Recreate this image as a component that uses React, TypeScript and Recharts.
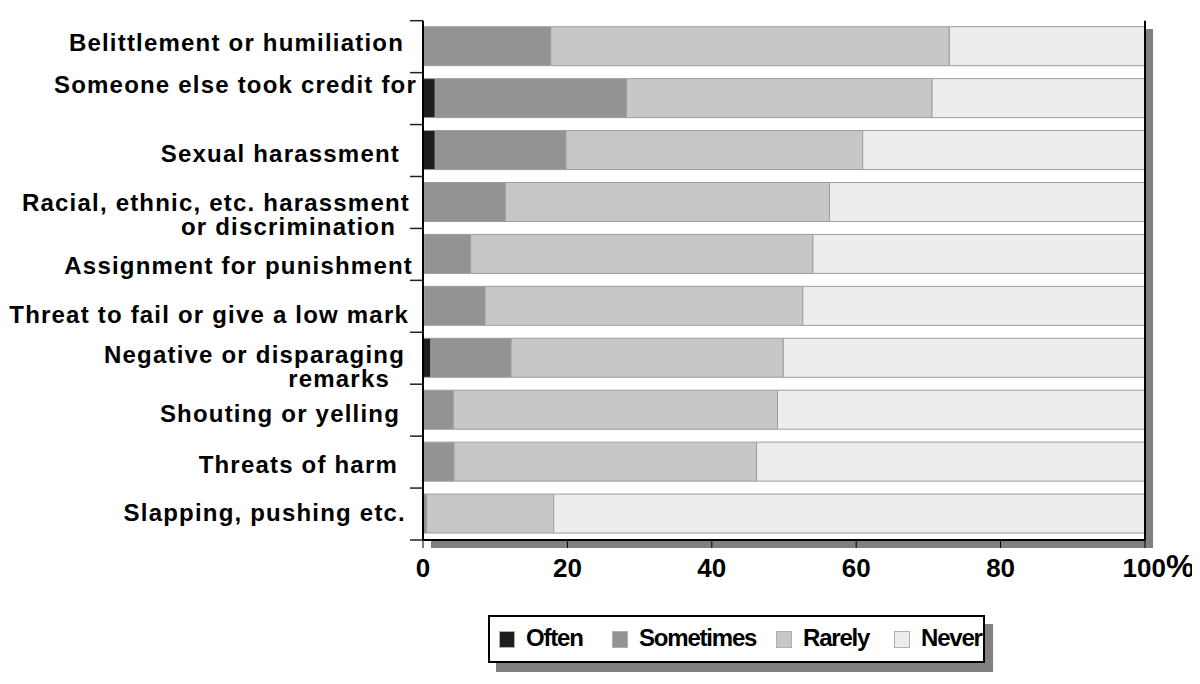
import React from 'react';
import { BarChart, Bar, XAxis, YAxis, CartesianGrid, Legend, ReferenceLine } from 'recharts';

const categories = [
  'Belittlement or humiliation',
  'Someone else took credit for',
  'Sexual harassment',
  'Racial, ethnic, etc. harassment\nor discrimination',
  'Assignment for punishment',
  'Threat to fail or give a low mark',
  'Negative or disparaging\nremarks',
  'Shouting or yelling',
  'Threats of harm',
  'Slapping, pushing etc.',
];
const often = [0, 1.7, 1.7, 0, 0.2, 0.2, 1.1, 0, 0, 0];
const sometimes = [17.7, 26.5, 18.1, 11.4, 6.4, 8.4, 11.1, 4.2, 4.3, 0.5];
const rarely = [55.2, 42.3, 41.1, 44.9, 47.4, 44.0, 37.7, 44.9, 41.9, 17.6];
const never = [27.1, 29.5, 39.1, 43.7, 46.0, 47.4, 50.1, 50.9, 53.8, 81.9];
const xTicks = [0, 20, 40, 60, 80, 100];

const series = [
  { key: 'often', name: 'Often', color: '#1f1f1f' },
  { key: 'sometimes', name: 'Sometimes', color: '#939393' },
  { key: 'rarely', name: 'Rarely', color: '#c8c7c8' },
  { key: 'never', name: 'Never', color: '#ededed' },
];

const data = categories.map((name, i) => ({
  name,
  often: often[i],
  sometimes: sometimes[i],
  rarely: rarely[i],
  never: never[i],
}));

const FONT = '"Liberation Sans", Arial, sans-serif';

// the original labels sit a bit off their bands; nudge them the same way
const labelShift = [
  { dy: -4, inset: [19] },
  { dy: -14, inset: [6] },
  { dy: 3, inset: [23] },
  { dy: 12, inset: [13, 27] },
  { dy: 11, inset: [10] },
  { dy: 8, inset: [14] },
  { dy: 8, inset: [18, 33] },
  { dy: 3, inset: [23] },
  { dy: 2, inset: [25] },
  { dy: -2, inset: [17] },
];

// legend slot widths, as spaced in the original box
const legendSlots = [113, 164, 118, 88];

const CategoryTick = (props: any) => {
  const { x, y, payload, index } = props;
  const lines = String(payload.value).split('\n');
  const shift = labelShift[index] || { dy: 0, inset: [12] };
  const lineGap = 24.5;
  const first = y + shift.dy + 8.6 - ((lines.length - 1) * lineGap) / 2;
  const half = payload.offset || 0;
  const last = index === categories.length - 1;
  return (
    <g>
      {/* tick marks sit on the band edges, not the band centres */}
      <line x1={x - 13} x2={x} y1={y - half} y2={y - half} stroke="#222" strokeWidth={1.5} />
      {last && <line x1={x - 13} x2={x} y1={y + half} y2={y + half} stroke="#222" strokeWidth={1.5} />}
      {lines.map((line, i) => (
        <text
          key={i}
          x={x - (shift.inset[i] ?? shift.inset[0])}
          y={first + i * lineGap}
          textAnchor="end"
          fill="#000"
          fontFamily={FONT}
          fontWeight="bold"
          fontSize={24}
          style={{ letterSpacing: 1.2 }}
        >
          {line}
        </text>
      ))}
    </g>
  );
};

const PercentTick = (props: any) => {
  const { x, y, payload } = props;
  const v = payload.value;
  const common = { fill: '#000', fontFamily: FONT, fontWeight: 'bold' as const };
  if (v === 100) {
    return (
      <g>
        <text x={x + 21} y={y + 28.5} textAnchor="end" fontSize={26} {...common}>100</text>
        <text x={x + 21} y={y + 28.5} textAnchor="start" fontSize={32} {...common}>%</text>
      </g>
    );
  }
  return (
    <text x={x} y={y + 28.5} textAnchor="middle" fontSize={26} {...common}>
      {v}
    </text>
  );
};

const LegendBox = () => (
  <div style={{ position: 'relative', width: 497, height: 48 }}>
    <div style={{ position: 'absolute', left: 8, top: 9, width: 497, height: 48, background: '#808080' }} />
    <div
      style={{
        position: 'absolute',
        left: 0,
        top: 0,
        width: 497,
        height: 48,
        boxSizing: 'border-box',
        border: '2px solid #000',
        background: '#fff',
        display: 'flex',
        alignItems: 'center',
        paddingLeft: 9,
        fontFamily: FONT,
        fontWeight: 'bold',
        fontSize: 24,
        letterSpacing: -1.2,
        whiteSpace: 'nowrap',
      }}
    >
      {series.map((s, i) => (
        <div key={s.key} style={{ display: 'flex', alignItems: 'center', width: legendSlots[i], flex: 'none' }}>
          <span
            style={{
              display: 'inline-block',
              width: 16,
              height: 17,
              boxSizing: 'border-box',
              background: s.color,
              border: '1px solid #b0b0b0',
              marginRight: 11,
              flex: 'none',
            }}
          />
          <span style={{ color: '#000', lineHeight: '24px', marginTop: -2 }}>{s.name}</span>
        </div>
      ))}
    </div>
  </div>
);

export default function App() {
  return (
    <div style={{ position: 'relative', width: 1200, height: 684, margin: -8 }}>
      {/* drop shadow behind the plot frame */}
      <div style={{ position: 'absolute', left: 431, top: 29, width: 722, height: 519, background: '#808080' }} />
      <BarChart
        width={1200}
        height={684}
        data={data}
        layout="vertical"
        margin={{ top: 20.7, right: 55, bottom: 104, left: 0 }}
        barSize={39}
      >
        <CartesianGrid fill="#fff" horizontal={false} vertical={false} />
        <YAxis
          type="category"
          dataKey="name"
          width={423}
          tick={<CategoryTick />}
          tickLine={false}
          tickSize={0}
          tickMargin={0}
          interval={0}
          axisLine={{ stroke: '#000', strokeWidth: 2 }}
        />
        <XAxis
          type="number"
          domain={[0, 100]}
          ticks={xTicks}
          height={40}
          tickSize={8}
          tickMargin={0}
          tick={<PercentTick />}
          tickLine={{ stroke: '#000', strokeWidth: 1 }}
          axisLine={{ stroke: '#000', strokeWidth: 2 }}
        />
        <XAxis
          xAxisId="top"
          orientation="top"
          type="number"
          domain={[0, 100]}
          height={0}
          tick={false}
          tickLine={false}
          axisLine={{ stroke: '#000', strokeWidth: 2 }}
        />
        {series.map((s) => (
          <Bar
            key={s.key}
            dataKey={s.key}
            name={s.name}
            stackId="a"
            fill={s.color}
            stroke="#9d9d9d"
            strokeWidth={1}
            isAnimationActive={false}
          />
        ))}
        <ReferenceLine x={100} stroke="#000" strokeWidth={2} />
        <Legend
          layout="horizontal"
          verticalAlign="middle"
          align="center"
          content={<LegendBox />}
          wrapperStyle={{ left: 488, top: 615, width: 497, height: 48 }}
        />
      </BarChart>
    </div>
  );
}
